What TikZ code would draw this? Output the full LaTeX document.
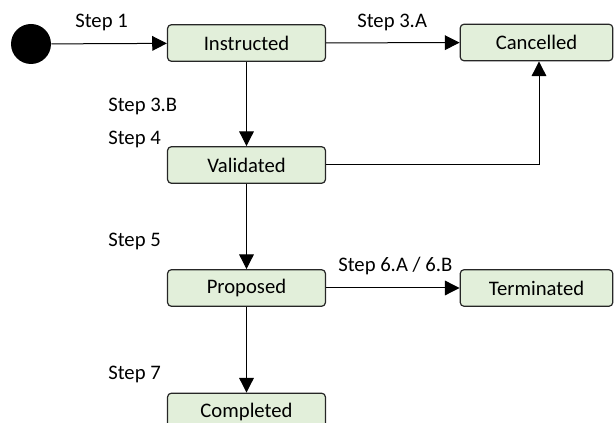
\documentclass[tikz,border=0pt]{standalone}
\usepackage{fontspec}
\setmainfont{Carlito}
\usetikzlibrary{arrows.meta}
\definecolor{boxfill}{HTML}{E2EFDA}
\definecolor{boxline}{HTML}{262626}
\tikzset{
  state/.style={draw=boxline, line width=0.9pt, fill=boxfill, rounded corners=3pt,
    minimum height=27.5pt, inner sep=0pt, font=\fontsize{15.5}{18}\selectfont},
  wide/.style={state, minimum width=118.5pt},
  narrow/.style={state, minimum width=114.5pt},
  conn/.style={line width=0.75pt, -{Triangle[length=11pt,width=11pt]}},
  lbl/.style={anchor=base west, inner sep=0pt, font=\fontsize{15.5}{18}\selectfont}
}
\begin{document}
\begin{tikzpicture}[x=0.75pt,y=-0.75pt]
\useasboundingbox (0,0) rectangle (614,423);
\begin{scope}
\clip (0,0) rectangle (614,423);
\node[circle, fill=black, minimum size=30pt, inner sep=0pt] (start) at (31,44) {};
\node[wide] (instr) at (246.5,43) {Instructed};
\node[narrow] (canc) at (536.5,42.5) {Cancelled};
\node[wide] (valid) at (246.5,165) {Validated};
\node[wide] (prop) at (246.5,288) {Proposed};
\node[narrow] (term) at (536.5,288) {Terminated};
\node[wide] (comp) at (246.5,411.5) {Completed};
\coordinate (bend) at (539,165);

\draw[conn] (start) -- (instr);
\draw[conn] (instr) -- (canc);
\draw[conn] (instr) -- (valid);
\draw[conn] (valid.east) -- (bend) -- (bend |- canc.south);
\draw[conn] (valid) -- (prop);
\draw[conn] (prop) -- (term);
\draw[conn] (prop) -- (comp);

\node[lbl] (l1) at (75,28) {Step 1};
\node[lbl] (l3a) at (357,28) {Step 3.A};
\node[lbl] (l3b) at (108,112) {Step 3.B};
\node[lbl] (l4) at (108,145) {Step 4};
\node[lbl] (l5) at (108,247) {Step 5};
\node[lbl] (l6) at (338,272) {Step 6.A / 6.B};
\node[lbl] (l7) at (108,380) {Step 7};
\end{scope}
\end{tikzpicture}
\end{document}
